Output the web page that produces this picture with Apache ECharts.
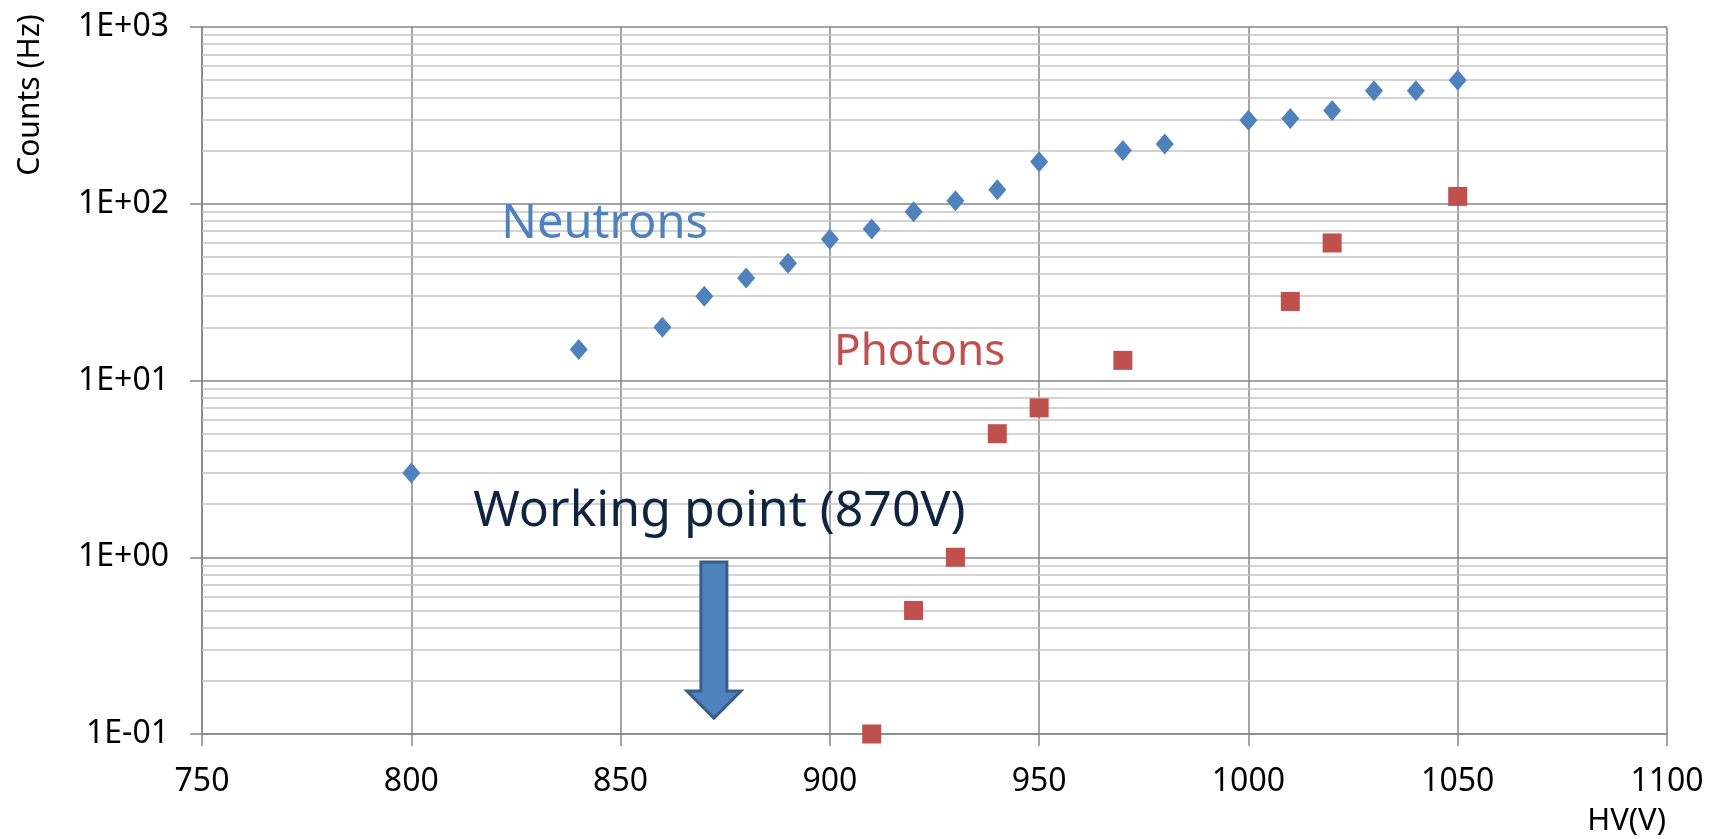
<!DOCTYPE html>
<html>
<head>
<meta charset="utf-8">
<script src="https://cdn.jsdelivr.net/npm/echarts@6/dist/echarts.min.js"></script>
<style>
  html, body { margin: 0; padding: 0; background: #fff; }
  #chart { width: 1716px; height: 839px; }
</style>
</head>
<body>
<div id="chart"></div>
<script>
// HV scan: count rates versus high voltage
const neutronHV     = [800, 840, 860, 870, 880, 890, 900, 910, 920, 930, 940, 950, 970, 980, 1000, 1010, 1020, 1030, 1040, 1050];
const neutronCounts = [3.0, 15, 20, 30, 38, 46, 63, 72, 90, 104, 120, 173, 200, 218, 297, 304, 337, 436, 436, 500];

const photonHV      = [910, 920, 930, 940, 950, 970, 1010, 1020, 1050];
const photonCounts  = [0.1, 0.5, 1.0, 5.0, 7.0, 13, 28, 60, 110];

const xTicks = [750, 800, 850, 900, 950, 1000, 1050, 1100];
const yDecades = [0.1, 1, 10, 100, 1000];
const workingPointHV = 870;

// minor grid values 2..9 within each decade
const minorGrid = [];
for (let d = 0; d < yDecades.length - 1; d++) {
  for (let m = 2; m <= 9; m++) minorGrid.push(+(yDecades[d] * m).toPrecision(3));
}

const FONT = '"Comic Sans MS", "Noto Sans", sans-serif';
const BLUE = '#4F81BD';
const RED = '#C0504D';

function sci(v) {
  const e = Math.round(Math.log10(v));
  const s = e < 0 ? '-' : '+';
  const a = Math.abs(e);
  return '1E' + s + (a < 10 ? '0' : '') + a;
}

const chart = echarts.init(document.getElementById('chart'));

chart.setOption({
  animation: false,
  grid: { left: 202, right: 49, top: 27, bottom: 105, containLabel: false },
  xAxis: {
    type: 'value',
    min: xTicks[0],
    max: xTicks[xTicks.length - 1],
    interval: 50,
    axisLine: { show: true, onZero: false, lineStyle: { color: '#868686', width: 1.5 } },
    axisTick: { show: true, length: 12, lineStyle: { color: '#868686', width: 1.5 } },
    axisLabel: { color: '#000', fontFamily: FONT, fontSize: 32, margin: 32, formatter: v => String(v) },
    splitLine: { show: true, lineStyle: { color: '#868686', width: 1.5 } }
  },
  yAxis: {
    type: 'log',
    logBase: 10,
    min: yDecades[0],
    max: yDecades[yDecades.length - 1],
    interval: 1,
    axisLine: { show: true, lineStyle: { color: '#868686', width: 1.5 } },
    axisTick: { show: true, length: 12, lineStyle: { color: '#868686', width: 1.5 } },
    axisLabel: { color: '#000', fontFamily: FONT, fontSize: 32, margin: 33, formatter: sci },
    splitLine: { show: true, lineStyle: { color: '#868686', width: 1.5 } }
  },
  series: [
    {
      name: 'Grid',
      type: 'line',
      data: [],
      silent: true,
      z: 1,
      markLine: {
        silent: true,
        symbol: ['none', 'none'],
        label: { show: false },
        lineStyle: { color: '#C4C4C4', width: 1.5, type: 'solid', opacity: 1 },
        data: minorGrid.map(v => ({ yAxis: v }))
      }
    },
    {
      name: 'Neutrons',
      type: 'scatter',
      symbol: 'diamond',
      symbolSize: [18, 21],
      itemStyle: { color: BLUE, opacity: 1 },
      z: 5,
      data: neutronHV.map((x, i) => [x, neutronCounts[i]])
    },
    {
      name: 'Photons',
      type: 'scatter',
      symbol: 'rect',
      symbolSize: 19,
      itemStyle: { color: RED, opacity: 1 },
      z: 5,
      data: photonHV.map((x, i) => [x, photonCounts[i]])
    }
  ]
});

// annotations placed through the axis scales
const px = (x, y) => chart.convertToPixel({ gridIndex: 0 }, [x, y]);
const nPos = px(821.5, 76);
const pPos = px(901, 14.5);
const wPos = px(814.8, 1.8);
const arrowTop = px(workingPointHV + 2.3, 0.94);
const arrowTip = px(workingPointHV + 2.3, 0.123);
const cx = arrowTop[0];
const shaftHalf = 13;
const headHalf = 27;
const headLen = 27;
const headY = arrowTip[1] - headLen;

function label(x, y, text, color, size, align, extra) {
  return Object.assign({
    type: 'text', x: x, y: y, z: 10,
    style: { text: text, fill: color, fontSize: size, fontFamily: FONT, align: align || 'left', verticalAlign: 'middle' }
  }, extra || {});
}

chart.setOption({
  graphic: [
    label(30, 95, 'Counts (Hz)', '#000', 30, 'center', { rotation: Math.PI / 2 }),
    label(1666, 821, 'HV(V)', '#000', 31, 'right'),
    label(nPos[0], nPos[1], 'Neutrons', BLUE, 47),
    label(pPos[0], pPos[1], 'Photons', RED, 44),
    label(wPos[0], wPos[1], 'Working point (870V)', '#0F243E', 50),
    {
      type: 'polygon',
      z: 10,
      shape: {
        points: [
          [cx - shaftHalf, arrowTop[1]],
          [cx + shaftHalf, arrowTop[1]],
          [cx + shaftHalf, headY],
          [cx + headHalf, headY],
          [cx, arrowTip[1]],
          [cx - headHalf, headY],
          [cx - shaftHalf, headY]
        ]
      },
      style: { fill: BLUE, stroke: '#385D8A', lineWidth: 3 }
    }
  ]
});
</script>
</body>
</html>
